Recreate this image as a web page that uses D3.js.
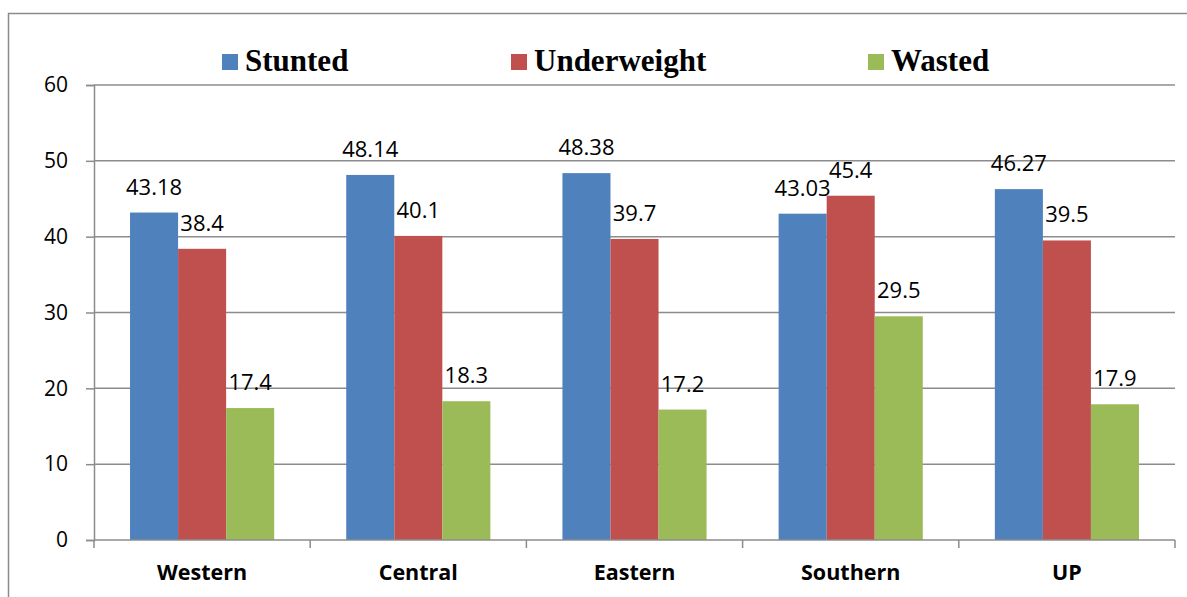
<!DOCTYPE html>
<html>
<head>
<meta charset="utf-8">
<script src="https://cdn.jsdelivr.net/npm/d3@7"></script>
<style>
  html, body { margin: 0; padding: 0; background: #fff; }
  svg { display: block; }
</style>
</head>
<body>
<svg id="chart" width="1187" height="597"></svg>
<script>
// Nutrition status by region (percent of children)
const categories = ["Western", "Central", "Eastern", "Southern", "UP"];
const seriesNames = ["Stunted", "Underweight", "Wasted"];
const stunted = [43.18, 48.14, 48.38, 43.03, 46.27];
const underweight = [38.4, 40.1, 39.7, 45.4, 39.5];
const wasted = [17.4, 18.3, 17.2, 29.5, 17.9];
const yTicks = [0, 10, 20, 30, 40, 50, 60];
const colors = ["#4F81BD", "#C0504D", "#9BBB59"];

const seriesValues = [stunted, underweight, wasted];

const svg = d3.select("#chart");
const W = 1187, H = 597;
const plot = { left: 94, right: 1175, top: 85, bottom: 540 };
const gridColor = "#8c8c8c";

// outer chart frame (runs past the right and bottom edges)
svg.append("rect")
  .attr("x", 8.5).attr("y", 13.5)
  .attr("width", W + 20).attr("height", H + 20)
  .attr("fill", "none").attr("stroke", "#8a8a8a").attr("stroke-width", 1.5);

const x0 = d3.scaleBand().domain(categories).range([plot.left, plot.right]).paddingInner(0).paddingOuter(0);
const x1 = d3.scaleBand().domain(seriesNames).range([0, x0.bandwidth()]).paddingInner(0).paddingOuter(0.75);
const y = d3.scaleLinear().domain([0, 60]).range([plot.bottom, plot.top]);

// horizontal gridlines
svg.append("g").selectAll("line").data(yTicks.filter(t => t > 0)).join("line")
  .attr("x1", plot.left).attr("x2", plot.right)
  .attr("y1", d => y(d)).attr("y2", d => y(d))
  .attr("stroke", gridColor).attr("stroke-width", 1.5);

// y axis
const yAxis = svg.append("g")
  .attr("transform", `translate(${plot.left},0)`)
  .call(d3.axisLeft(y).tickValues(yTicks).tickSize(8).tickPadding(18).tickFormat(d3.format("d")));
yAxis.select(".domain").attr("stroke", gridColor).attr("stroke-width", 1.5);
yAxis.selectAll(".tick line").attr("stroke", gridColor).attr("stroke-width", 1.5);
yAxis.selectAll(".tick text")
  .attr("font-family", "'Open Sans', sans-serif").attr("font-size", 21).attr("fill", "#000");

// bars
const groups = svg.append("g").selectAll("g").data(categories).join("g")
  .attr("transform", d => `translate(${x0(d)},0)`);

groups.each(function(cat, ci) {
  const g = d3.select(this);
  seriesNames.forEach((s, si) => {
    const v = seriesValues[si][ci];
    g.append("rect")
      .attr("x", x1(s)).attr("width", x1.bandwidth())
      .attr("y", y(v)).attr("height", y(0) - y(v))
      .attr("fill", colors[si]);
  });
});

// value labels
groups.each(function(cat, ci) {
  const g = d3.select(this);
  seriesNames.forEach((s, si) => {
    const v = seriesValues[si][ci];
    g.append("text")
      .attr("x", x1(s) + x1.bandwidth() / 2)
      .attr("y", y(v) - 18)
      .attr("text-anchor", "middle")
      .attr("font-family", "'Open Sans', sans-serif")
      .attr("font-size", 22)
      .attr("fill", "#000")
      .text(v);
  });
});

// x axis
const xTickPos = d3.range(categories.length + 1).map(i => plot.left + i * x0.bandwidth());
svg.append("line")
  .attr("x1", plot.left).attr("x2", plot.right)
  .attr("y1", plot.bottom).attr("y2", plot.bottom)
  .attr("stroke", gridColor).attr("stroke-width", 1.5);
svg.append("g").selectAll("line").data(xTickPos).join("line")
  .attr("x1", d => d).attr("x2", d => d)
  .attr("y1", plot.bottom).attr("y2", plot.bottom + 8)
  .attr("stroke", gridColor).attr("stroke-width", 1.5);
svg.append("g").selectAll("text").data(categories).join("text")
  .attr("x", d => x0(d) + x0.bandwidth() / 2)
  .attr("y", 580)
  .attr("text-anchor", "middle")
  .attr("font-family", "'Open Sans', sans-serif")
  .attr("font-weight", "bold")
  .attr("font-size", 21.5)
  .attr("fill", "#000")
  .text(d => d);

// legend
const legendX = [222, 511, 868];
const legend = svg.append("g").selectAll("g").data(seriesNames).join("g")
  .attr("transform", (d, i) => `translate(${legendX[i]},54)`);
legend.append("rect").attr("width", 16).attr("height", 16).attr("fill", (d, i) => colors[i]);
legend.append("text")
  .attr("x", 23).attr("y", 16.5)
  .attr("font-family", "'Liberation Serif', 'Times New Roman', serif")
  .attr("font-weight", "bold")
  .attr("font-size", 31)
  .attr("fill", "#000")
  .text(d => d);
</script>
</body>
</html>
